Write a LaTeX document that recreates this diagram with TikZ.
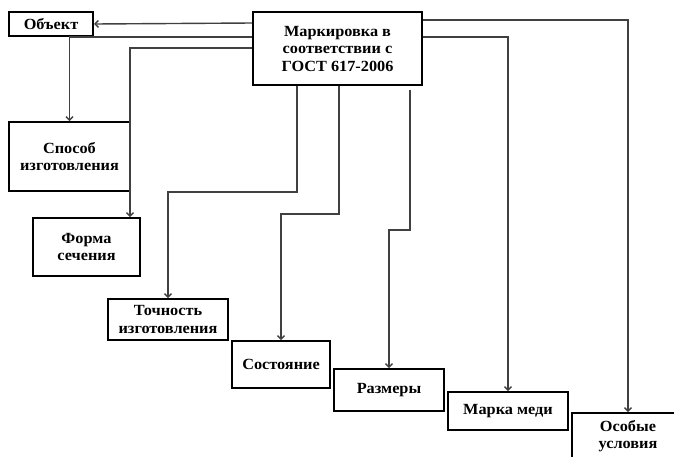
\documentclass[tikz,border=0pt]{standalone}
\usepackage{fontspec}
\setmainfont{Liberation Serif}[FakeStretch=1.05]
\usetikzlibrary{arrows.meta}
\begin{document}
\begin{tikzpicture}[x=1pt,y=-1pt,
  box/.style={draw=black, line width=2pt, fill=white, inner sep=0pt, align=center,
    font=\fontsize{15.5}{17.5}\selectfont\bfseries},
  conn/.style={draw=black!75, line width=1.4pt, -{Straight Barb[length=3.5pt,width=7pt]}}]
\useasboundingbox (0,0) rectangle (674,456);
\clip (0,0) rectangle (674,456);
\node[box, minimum width=169pt, minimum height=73pt] (main) at (337.5,48.5) {Маркировка в\\соответствии с\\ГОСТ 617-2006};
\node[box, minimum width=84pt, minimum height=24pt] (obj) at (51,24) {Объект};
\node[box, minimum width=121pt, minimum height=69pt] (sposob) at (69.5,156.5) {Способ\\изготовления};
\node[box, minimum width=107pt, minimum height=58pt] (forma) at (86.5,247) {Форма\\сечения};
\node[box, minimum width=120pt, minimum height=41pt] (tochn) at (168,319.5) {Точность\\изготовления};
\node[box, minimum width=98pt, minimum height=47pt] (sost) at (281,364.5) {Состояние};
\node[box, minimum width=110pt, minimum height=42pt] (razm) at (389,390) {Размеры};
\node[box, minimum width=120pt, minimum height=38pt] (marka) at (508,411) {Марка меди};
\node[box, minimum width=112pt, minimum height=46pt] (osob) at (628,436) {Особые\\условия};
\draw[conn] ([yshift=-12pt]main.north west) -- (obj.east);
\draw[conn] ([yshift=-26pt]main.north west) -| (sposob.north);
\draw[conn] ([yshift=-37pt]main.north west) -| ([xshift=98pt]forma.north west);
\draw[conn] ([xshift=45pt]main.south west) -- ++(0,-106pt) -| (tochn.north);
\draw[conn] ([xshift=87pt]main.south west) -- ++(0,-128pt) -| (sost.north);
\draw[conn] ([xshift=158pt,yshift=-4pt]main.south west) -- ++(0,-140pt) -| (razm.north);
\draw[conn] ([yshift=-26pt]main.north east) -| (marka.north);
\draw[conn] ([yshift=-9pt]main.north east) -| (osob.north);
\end{tikzpicture}
\end{document}
